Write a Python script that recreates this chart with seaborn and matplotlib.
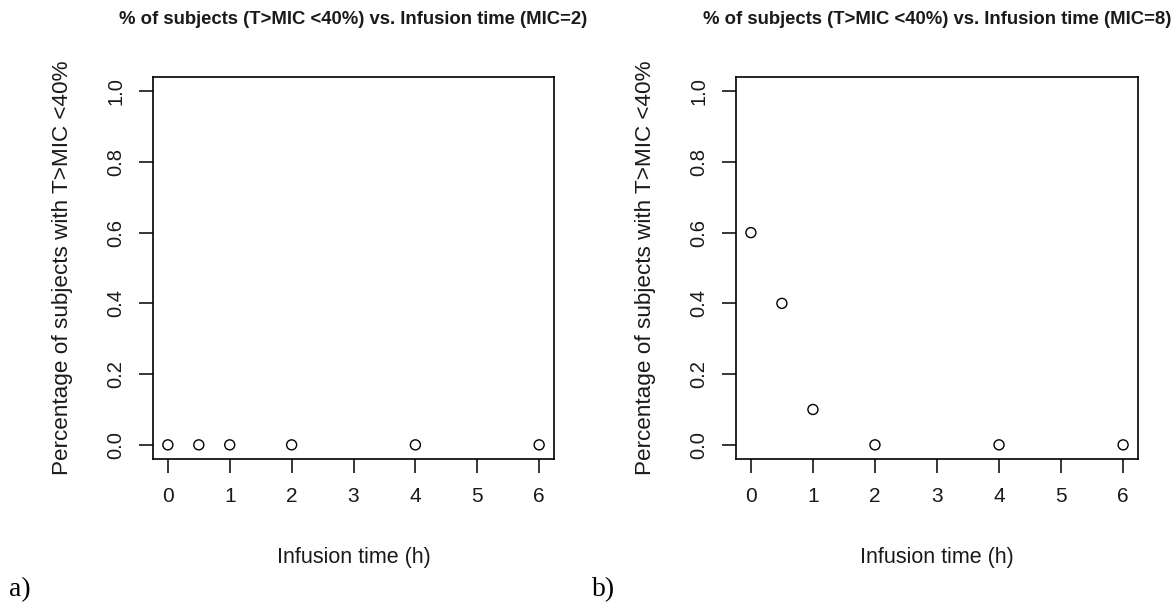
import matplotlib
matplotlib.use("Agg")
import matplotlib.pyplot as plt
import seaborn as sns
import pandas as pd

sns.set_style("white")
plt.rcParams['font.family'] = ['Liberation Sans', 'DejaVu Sans']

# Data
infusion_time = [0, 0.5, 1, 2, 4, 6]
pct_mic2 = [0.0, 0.0, 0.0, 0.0, 0.0, 0.0]
pct_mic8 = [0.6, 0.4, 0.1, 0.0, 0.0, 0.0]
titles = ["% of subjects (T>MIC <40%) vs. Infusion time (MIC=2)",
          "% of subjects (T>MIC <40%) vs. Infusion time (MIC=8)"]
panel_tags = ["a)", "b)"]
x_ticks = [0, 1, 2, 3, 4, 5, 6]
y_ticks = [0.0, 0.2, 0.4, 0.6, 0.8, 1.0]
y_tick_labels = ["0.0", "0.2", "0.4", "0.6", "0.8", "1.0"]
xlabel = "Infusion time (h)"
ylabel = "Percentage of subjects with T>MIC <40%"

W, H = 1176, 603
fig = plt.figure(figsize=(W / 100, H / 100), dpi=100)
fig.patch.set_facecolor("white")

txt = "#1a1a1a"
boxes = [(153, 77, 554, 459), (736, 77, 1138, 459)]
series = [pct_mic2, pct_mic8]
tag_x = [9, 592]
ylab_x = [63, 646]

for i, (l, t, r, b) in enumerate(boxes):
    ax = fig.add_axes([l / W, (H - b) / H, (r - l) / W, (b - t) / H])
    df = pd.DataFrame({"x": infusion_time, "y": series[i]})
    sns.scatterplot(data=df, x="x", y="y", ax=ax, marker="o", s=52,
                    facecolor="none", edgecolor="black", linewidth=1.0, zorder=3)
    ax.set_xlim(-0.24, 6.24)
    ax.set_ylim(-0.04, 1.04)
    ax.set_xticks(x_ticks)
    ax.set_xticklabels([str(v) for v in x_ticks])
    ax.set_yticks(y_ticks)
    ax.set_yticklabels(y_tick_labels, rotation=90, va="center")
    for s in ax.spines.values():
        s.set_visible(True)
        s.set_color("black")
        s.set_linewidth(1.2)
    ax.tick_params(axis="both", direction="out", length=10, width=1.1,
                   color="black", labelcolor=txt,
                   bottom=True, left=True, top=False, right=False)
    ax.tick_params(axis="x", pad=10, labelsize=15)
    ax.tick_params(axis="y", pad=10, labelsize=14.5)
    ax.set_xlabel(xlabel, fontsize=15.5, color=txt)
    ax.set_ylabel(ylabel, fontsize=16.2, color=txt)
    h = b - t
    w = r - l
    ax.xaxis.set_label_coords(0.5, -(557 - b) / h)
    ax.xaxis.label.set_va("center")
    ax.yaxis.set_label_coords(-(l - ylab_x[i]) / w, 0.5)
    ax.yaxis.label.set_va("center")
    ax.set_title(titles[i], fontsize=13.3, fontweight="bold", color=txt,
                 y=1 + (t - 20) / h, va="center", pad=0)
    ax.grid(False)
    fig.text(tag_x[i] / W, (H - 590) / H, panel_tags[i], fontsize=20,
             family=["Liberation Serif", "DejaVu Serif"], color="black",
             ha="left", va="center")

fig.savefig("out.png", dpi=100, facecolor="white")
